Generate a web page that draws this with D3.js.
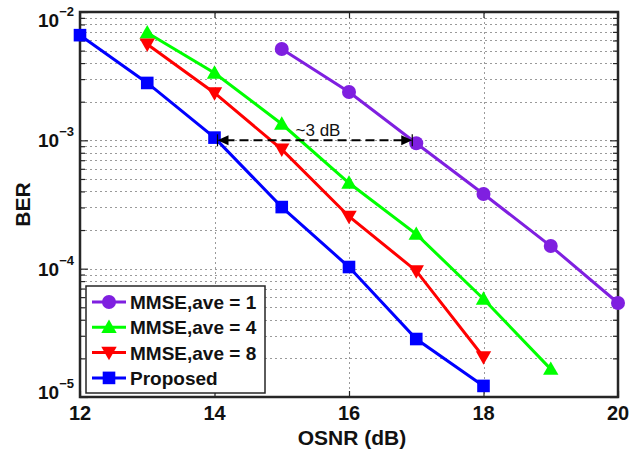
<!DOCTYPE html>
<html>
<head>
<meta charset="utf-8">
<script src="https://cdn.jsdelivr.net/npm/d3@7"></script>
<style>
  body { margin: 0; background: #fff; }
  svg { display: block; font-family: "Liberation Sans", Arial, sans-serif; }
</style>
</head>
<body>
<svg id="chart" width="630" height="453"></svg>
<script>
// OSNR sweep (dB) per curve and the measured BER
const osnrAve1 = [15, 16, 17, 18, 19, 20];
const berAve1 = [5.15e-3, 2.38e-3, 9.5e-4, 3.82e-4, 1.5e-4, 5.4e-5];

const osnrAve4 = [13, 14, 15, 16, 17, 18, 19];
const berAve4 = [6.9e-3, 3.35e-3, 1.34e-3, 4.65e-4, 1.86e-4, 5.8e-5, 1.65e-5];

const osnrAve8 = [13, 14, 15, 16, 17, 18];
const berAve8 = [5.6e-3, 2.34e-3, 8.5e-4, 2.55e-4, 9.6e-5, 2.05e-5];

const osnrProposed = [12, 13, 14, 15, 16, 17, 18];
const berProposed = [6.6e-3, 2.8e-3, 1.05e-3, 3.02e-4, 1.03e-4, 2.83e-5, 1.22e-5];

const seriesNames = ["MMSE,ave = 1", "MMSE,ave = 4", "MMSE,ave = 8", "Proposed"];
const xTicks = [12, 14, 16, 18, 20];
const yDecades = [-2, -3, -4, -5];
const gapLabel = "~3 dB";
const gapFrom = 14, gapTo = 17, gapBer = 1e-3;

const series = [
  { name: seriesNames[0], x: osnrAve1, y: berAve1, color: "#7f1fe0", marker: "circle" },
  { name: seriesNames[1], x: osnrAve4, y: berAve4, color: "#00ff00", marker: "up" },
  { name: seriesNames[2], x: osnrAve8, y: berAve8, color: "#ff0000", marker: "down" },
  { name: seriesNames[3], x: osnrProposed, y: berProposed, color: "#0000ff", marker: "square" }
];

const svg = d3.select("#chart");
const L = 80, R = 618, T = 12, B = 397;

const x = d3.scaleLinear().domain([12, 20]).range([L, R]);
const y = d3.scaleLog().domain([1e-5, 1e-2]).range([B, T]);

// minor log values for grid and ticks
const minors = [];
for (let e = -5; e < -2; e++) for (let m = 1; m < 10; m++) minors.push(m * Math.pow(10, e));
minors.push(1e-2);

const grid = svg.append("g").attr("stroke", "#9a9a9a").attr("stroke-width", 1)
  .attr("stroke-dasharray", "2,3");
minors.filter(v => v > 1e-5 * 1.0001 && v < 1e-2 * 0.9999).forEach(v => {
  grid.append("line").attr("x1", L).attr("x2", R)
    .attr("y1", Math.round(y(v)) + 0.5).attr("y2", Math.round(y(v)) + 0.5);
});
xTicks.filter(v => v > 12 && v < 20).forEach(v => {
  grid.append("line").attr("y1", T).attr("y2", B)
    .attr("x1", Math.round(x(v)) + 0.5).attr("x2", Math.round(x(v)) + 0.5);
});

// axes with inward ticks
const axisColor = "#262626";
const xAxisB = d3.axisBottom(x).tickValues(xTicks).tickSize(-6).tickFormat("");
const xAxisT = d3.axisTop(x).tickValues(xTicks).tickSize(-6).tickFormat("");
const yAxisL = d3.axisLeft(y).tickValues(minors).tickSize(-5).tickFormat("");
const yAxisR = d3.axisRight(y).tickValues(minors).tickSize(-5).tickFormat("");

function styleAxis(g) {
  g.select(".domain").remove();
  g.selectAll(".tick line").attr("stroke", axisColor).attr("stroke-width", 1.2);
}
svg.append("g").attr("transform", `translate(0,${B})`).call(xAxisB).call(styleAxis);
svg.append("g").attr("transform", `translate(0,${T})`).call(xAxisT).call(styleAxis);
const gl = svg.append("g").attr("transform", `translate(${L},0)`).call(yAxisL).call(styleAxis);
const gr = svg.append("g").attr("transform", `translate(${R},0)`).call(yAxisR).call(styleAxis);
// major decade ticks a bit longer
[gl, gr].forEach((g, i) => {
  g.selectAll(".tick").filter(d => yDecades.some(e => Math.abs(Math.log10(d) - e) < 1e-6))
    .select("line").attr("x2", i === 0 ? 8 : -8);
});

svg.append("rect").attr("x", L).attr("y", T).attr("width", R - L).attr("height", B - T)
  .attr("fill", "none").attr("stroke", axisColor).attr("stroke-width", 2.5);

// tick labels
svg.append("g").selectAll("text").data(xTicks).join("text")
  .attr("x", d => x(d)).attr("y", B + 23)
  .attr("text-anchor", "middle").attr("font-size", 20).attr("font-weight", "bold")
  .attr("fill", "#111").text(d => d);

// decade labels: the end labels are nudged inside the axis span
function decadeBaseline(e) {
  const py = y(Math.pow(10, e));
  if (e === yDecades[0]) return py + 15;
  if (e === yDecades[yDecades.length - 1]) return py + 2;
  return py + 7;
}
const yl = svg.append("g").selectAll("text").data(yDecades).join("text")
  .attr("x", L - 6).attr("y", d => decadeBaseline(d))
  .attr("text-anchor", "end").attr("font-size", 19).attr("font-weight", "bold").attr("fill", "#111");
yl.append("tspan").text("10");
yl.append("tspan").attr("dy", -11).attr("font-size", 13).text(d => "\u2212" + Math.abs(d));

// axis titles
svg.append("text").attr("x", (L + R) / 2 + 3).attr("y", 445).attr("text-anchor", "middle")
  .attr("font-size", 21).attr("font-weight", "bold").attr("fill", "#111").text("OSNR (dB)");
svg.append("text").attr("transform", `translate(30,${(T + B) / 2}) rotate(-90)`)
  .attr("text-anchor", "middle").attr("font-size", 21).attr("font-weight", "bold")
  .attr("fill", "#111").text("BER");

// markers
function drawMarker(g, type, color, cx, cy, s) {
  if (type === "circle") {
    g.append("circle").attr("cx", cx).attr("cy", cy).attr("r", s * 0.5).attr("fill", color);
  } else if (type === "square") {
    g.append("rect").attr("x", cx - s * 0.45).attr("y", cy - s * 0.45)
      .attr("width", s * 0.9).attr("height", s * 0.9).attr("fill", color);
  } else {
    const h = s * 0.55, dir = type === "up" ? -1 : 1;
    g.append("path").attr("fill", color)
      .attr("d", `M${cx},${cy + dir * h} L${cx - h},${cy - dir * h * 0.75} L${cx + h},${cy - dir * h * 0.75} Z`);
  }
}

const line = d3.line().x(d => x(d[0])).y(d => y(d[1]));
const plot = svg.append("g");
series.forEach(s => {
  const pts = s.x.map((v, i) => [v, s.y[i]]);
  plot.append("path").datum(pts).attr("d", line).attr("fill", "none")
    .attr("stroke", s.color).attr("stroke-width", 3);
  pts.forEach(p => drawMarker(plot, s.marker, s.color, x(p[0]), y(p[1]), 14));
});

// 3 dB gap annotation
const ay = y(gapBer), ax1 = x(gapFrom) + 3, ax2 = x(gapTo) - 4;
const ann = svg.append("g").attr("stroke", "#000").attr("stroke-width", 2);
ann.append("line").attr("x1", ax1 + 8).attr("x2", ax2 - 8).attr("y1", ay).attr("y2", ay)
  .attr("stroke-dasharray", "9,5");
ann.append("line").attr("x1", ax1).attr("x2", ax1).attr("y1", ay - 6).attr("y2", ay + 6).attr("stroke-width", 1.2);
ann.append("line").attr("x1", ax2).attr("x2", ax2).attr("y1", ay - 6).attr("y2", ay + 6).attr("stroke-width", 1.2);
ann.append("path").attr("stroke", "none").attr("fill", "#000")
  .attr("d", `M${ax1},${ay} L${ax1 + 11},${ay - 5} L${ax1 + 11},${ay + 5} Z`);
ann.append("path").attr("stroke", "none").attr("fill", "#000")
  .attr("d", `M${ax2},${ay} L${ax2 - 11},${ay - 5} L${ax2 - 11},${ay + 5} Z`);
svg.append("text").attr("x", 318).attr("y", 136).attr("text-anchor", "middle")
  .attr("font-size", 17).attr("fill", "#111").text(gapLabel);

// legend
const lg = svg.append("g");
lg.append("rect").attr("x", 86).attr("y", 286).attr("width", 179).attr("height", 107)
  .attr("fill", "#fff").attr("stroke", axisColor).attr("stroke-width", 1.5);
series.forEach((s, i) => {
  const ry = 302 + i * 25.3;
  lg.append("line").attr("x1", 92).attr("x2", 126).attr("y1", ry).attr("y2", ry)
    .attr("stroke", s.color).attr("stroke-width", 3);
  drawMarker(lg, s.marker, s.color, 109, ry, 14);
  lg.append("text").attr("x", 130).attr("y", ry + 7).attr("font-size", 19)
    .attr("font-weight", "bold").attr("fill", "#111").text(s.name);
});
</script>
</body>
</html>
